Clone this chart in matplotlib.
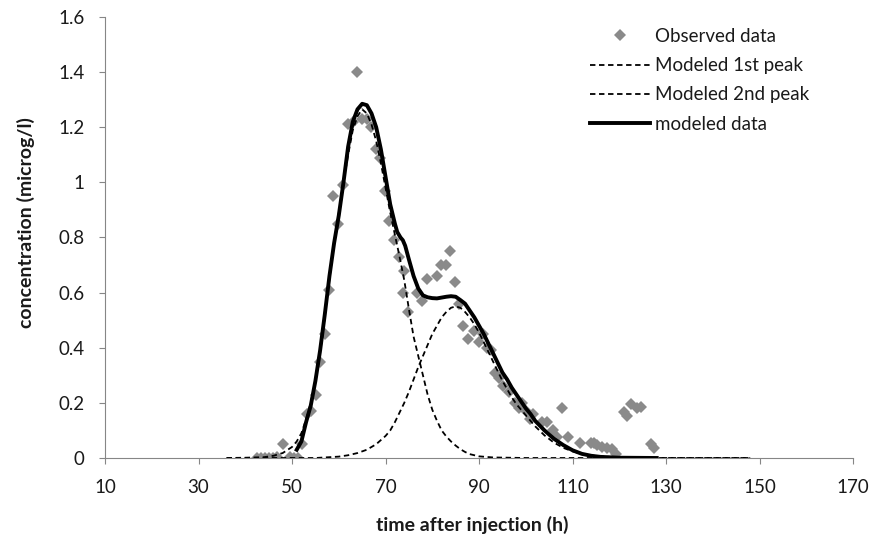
import matplotlib
matplotlib.use('Agg')
import matplotlib.pyplot as plt

plt.rcParams['font.family'] = ['Lato', 'DejaVu Sans']

# observed concentrations (time h, microg/l)
obs_t = [42.5, 43.3, 44.2, 45.0, 45.9, 46.7, 48.0, 49.6, 50.4, 51.3, 52.1, 53.1, 54.1,
         55.1, 56.0, 57.1, 57.9, 58.8, 59.9, 61.0, 62.0, 63.0, 64.0, 65.0, 66.0, 66.9,
         67.9, 68.8, 69.9, 70.8, 71.9, 72.9, 73.9, 73.8, 74.9, 76.8, 77.9, 78.8, 80.9,
         81.9, 82.9, 83.8, 84.9, 85.8, 86.6, 87.6, 88.9, 89.9, 90.8, 91.8, 92.5, 93.4,
         94.3, 95.2, 96.3, 97.7, 98.6, 99.1, 100.0, 100.8, 101.6, 103.4, 104.5, 105.9,
         106.7, 107.7, 109.1, 111.6, 113.9, 114.6, 115.3, 116.4, 117.4, 118.4, 119.4,
         120.9, 121.7, 122.6, 123.7, 124.6, 126.7, 127.4]
obs_c = [0.0, 0.0, 0.0, 0.0, 0.0, 0.005, 0.05, 0.005, 0.0, 0.0, 0.05, 0.16, 0.17,
         0.23, 0.35, 0.45, 0.61, 0.95, 0.85, 0.99, 1.21, 1.22, 1.40, 1.23, 1.23, 1.20,
         1.12, 1.09, 0.97, 0.86, 0.79, 0.73, 0.68, 0.60, 0.53, 0.60, 0.57, 0.65, 0.66,
         0.70, 0.70, 0.75, 0.64, 0.56, 0.48, 0.43, 0.46, 0.42, 0.45, 0.40, 0.39, 0.31,
         0.29, 0.26, 0.24, 0.20, 0.18, 0.20, 0.17, 0.14, 0.16, 0.13, 0.13, 0.10,
         0.075, 0.18, 0.075, 0.053, 0.056, 0.053, 0.047, 0.041, 0.035, 0.031, 0.015,
         0.168, 0.152, 0.196, 0.18, 0.184, 0.051, 0.035]

# modeled first peak
p1_t = [36, 40, 44, 46, 48, 50, 51, 52, 53, 54, 55, 56, 57, 58, 59, 60, 61, 62, 63, 64,
        65, 66, 67, 68, 69, 70, 71, 72, 73, 74, 75, 76, 77, 78, 79, 80, 81, 82, 83, 84,
        85, 86, 87, 88, 90, 93, 100, 148]
p1_c = [0.0, 0.001, 0.003, 0.008, 0.018, 0.04, 0.06, 0.09, 0.14, 0.20, 0.28, 0.38, 0.51,
        0.65, 0.78, 0.89, 1.0, 1.10, 1.19, 1.24, 1.265, 1.25, 1.21, 1.15, 1.07, 0.98,
        0.89, 0.81, 0.73, 0.645, 0.54, 0.44, 0.37, 0.30, 0.23, 0.175, 0.135, 0.10,
        0.078, 0.06, 0.045, 0.032, 0.022, 0.014, 0.006, 0.002, 0.0, 0.0]

# modeled second peak
p2_t = [36, 55, 60, 62, 64, 66, 68, 70, 71, 72, 73, 74, 75, 76, 77, 78, 79, 80, 81, 82,
        83, 84, 85, 86, 87, 88, 89, 90, 91, 92, 93, 94, 95, 96, 97, 98, 99, 100, 102,
        104, 106, 108, 110, 112, 115, 120, 125, 148]
p2_c = [0.0, 0.0, 0.005, 0.01, 0.018, 0.03, 0.05, 0.08, 0.10, 0.13, 0.165, 0.20, 0.24,
        0.285, 0.33, 0.37, 0.41, 0.45, 0.48, 0.51, 0.53, 0.545, 0.55, 0.545, 0.53, 0.51,
        0.485, 0.455, 0.42, 0.385, 0.35, 0.315, 0.28, 0.25, 0.22, 0.195, 0.175, 0.155,
        0.115, 0.082, 0.056, 0.037, 0.024, 0.015, 0.007, 0.002, 0.0, 0.0]

# modeled total
mod_t = [51, 52, 53, 54, 55, 56, 57, 58, 59, 60, 61, 62, 63, 64, 65, 66, 67, 68, 69, 70,
         71, 72, 72.5, 73.2, 73.7, 74.2, 75, 76, 77, 78, 79, 80, 81, 82, 83, 84, 85, 86,
         87, 88, 89, 90, 91, 92, 93, 94, 95, 96, 97, 98, 99, 100, 101, 102, 104, 106,
         108, 110, 112, 114, 116, 120, 128]
mod_c = [0.03, 0.06, 0.13, 0.19, 0.28, 0.39, 0.52, 0.66, 0.78, 0.88, 1.0, 1.13, 1.22,
         1.265, 1.285, 1.28, 1.25, 1.20, 1.12, 1.02, 0.92, 0.85, 0.82, 0.80, 0.79, 0.77,
         0.72, 0.66, 0.615, 0.59, 0.583, 0.58, 0.579, 0.582, 0.585, 0.587, 0.585, 0.573,
         0.56, 0.535, 0.51, 0.48, 0.45, 0.415, 0.38, 0.345, 0.31, 0.285, 0.255, 0.23,
         0.205, 0.18, 0.16, 0.135, 0.10, 0.07, 0.047, 0.028, 0.015, 0.008, 0.004, 0.001,
         0.0]

x_ticks = [10, 30, 50, 70, 90, 110, 130, 150, 170]
y_ticks = [0, 0.2, 0.4, 0.6, 0.8, 1.0, 1.2, 1.4, 1.6]
y_tick_labels = ['0', '0.2', '0.4', '0.6', '0.8', '1', '1.2', '1.4', '1.6']

fig = plt.figure(figsize=(8.71, 5.44), dpi=100)
ax = fig.add_axes([0.1206, 0.1581, 0.8588, 0.8107])

ax.plot(obs_t, obs_c, linestyle='none', marker='D', markersize=6,
        color='#8a8a8a', markeredgewidth=0, label='Observed data', zorder=2)
ax.plot(p1_t, p1_c, color='black', linestyle=(0, (3, 2)), linewidth=1.3,
        label='Modeled 1st peak', zorder=3)
ax.plot(p2_t, p2_c, color='black', linestyle=(0, (3, 2)), linewidth=1.3,
        label='Modeled 2nd peak', zorder=3)
ax.plot(mod_t, mod_c, color='black', linewidth=2.8, label='modeled data', zorder=4)

ax.set_xlim(10, 170)
ax.set_ylim(0, 1.6)
ax.set_xticks(x_ticks)
ax.set_yticks(y_ticks)
ax.set_yticklabels(y_tick_labels)

for side in ['top', 'right']:
    ax.spines[side].set_visible(False)
for side in ['left', 'bottom']:
    ax.spines[side].set_color('#868686')
    ax.spines[side].set_linewidth(0.8)
ax.tick_params(direction='out', length=4, width=0.8, color='#868686',
               labelsize=13.5, pad=11, labelcolor='#1a1a1a')

fig.text(0.542, 0.035, 'time after injection (h)', ha='center', va='center',
         fontsize=14, fontweight='bold', color='#1a1a1a')
fig.text(0.030, 0.59, 'concentration (microg/l)', ha='center', va='center',
         rotation=90, fontsize=14, fontweight='bold', color='#1a1a1a')

ax.legend(loc='upper left', bbox_to_anchor=(0.677, 0.949), bbox_transform=fig.transFigure,
          frameon=False, fontsize=13.5, handlelength=3.2, handletextpad=0.3,
          labelspacing=0.66, borderpad=0, borderaxespad=0, labelcolor='#1a1a1a')

fig.savefig('out.png', dpi=100)
